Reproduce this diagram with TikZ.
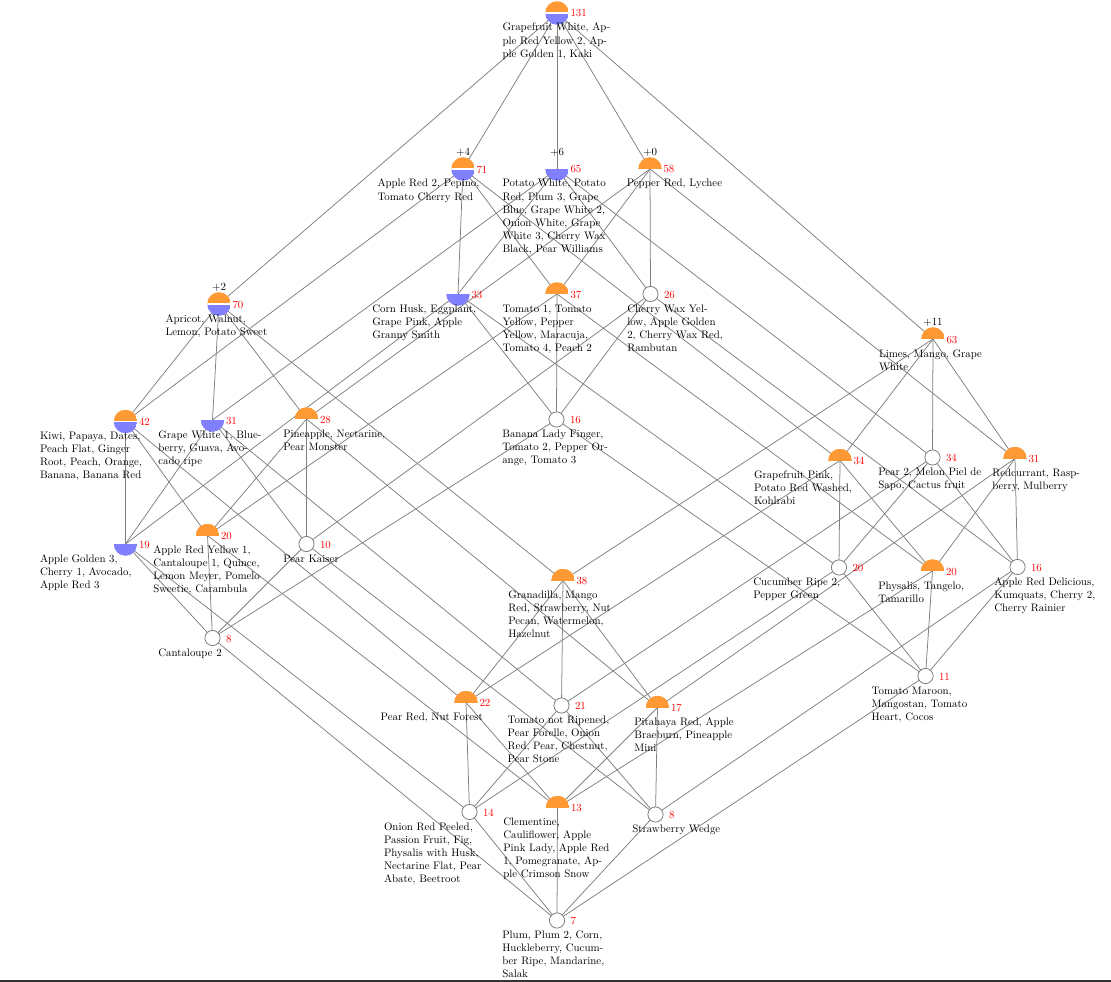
\documentclass[tikz,border=0pt]{standalone}
\usetikzlibrary{calc,backgrounds}
\definecolor{conceptorange}{RGB}{255,153,51}
\definecolor{conceptblue}{RGB}{128,128,255}
\definecolor{edgegray}{RGB}{128,128,128}
% object list under a concept, first baseline = node anchor
\newcommand\objlines[1]{\begin{tabular}[t]{@{}l@{}}#1\end{tabular}}
% name, x, y, look, extent size, label x-offset, objects
\newcommand\concept[7]{%
  \node[#4] (#1) at (#2,#3) {};
  \node[extent] at ($(#1.center)+(13.5,0.5)$) {#5};
  \node[objects] at ($(#1.center)+(#6,18)$) {\objlines{#7}};
}
\begin{document}
\begin{tikzpicture}[x=0.92pt, y=-0.92pt,
  every node/.style={inner sep=0pt, outer sep=0pt},
  disc/.style={circle, minimum size=21.7pt},
  ortop/.style={disc, path picture={\fill[conceptorange] (path picture bounding box.west) rectangle (path picture bounding box.north east);}},
  blbottom/.style={disc, path picture={\fill[conceptblue] (path picture bounding box.south west) rectangle (path picture bounding box.east);}},
  bothhalves/.style={disc, path picture={
      \fill[conceptorange] (path picture bounding box.west) rectangle (path picture bounding box.north east);
      \fill[conceptblue] (path picture bounding box.south west) rectangle (path picture bounding box.east);
      \draw[white, line width=1.1pt] (path picture bounding box.west) -- (path picture bounding box.east);}},
  plain/.style={circle, draw=edgegray, fill=white, line width=0.75pt, minimum size=14pt},
  extent/.style={anchor=west, text=red},
  objects/.style={anchor=base west},
  attrcount/.style={anchor=base},
  edge/.style={draw=edgegray, line width=0.7pt}]
\useasboundingbox (0,0) rectangle (1111,982);

% top
\concept{n131}{557}{13}{bothhalves}{131}{-54.5}{Grapefruit White, Ap-\\ple Red Yellow 2, Ap-\\ple Golden 1, Kaki}
% coatoms
\concept{n71}{463}{169}{bothhalves}{71}{-85.5}{Apple Red 2, Pepino,\\Tomato Cherry Red}
\concept{n65}{557}{169}{blbottom}{65}{-54.5}{Potato White, Potato\\Red, Plum 3, Grape\\Blue, Grape White 2,\\Onion White, Grape\\White 3, Cherry Wax\\Black, Pear Williams}
\concept{n58}{650}{169}{ortop}{58}{-23.2}{Pepper Red, Lychee}
\concept{n70}{219}{304}{bothhalves}{70}{-53.5}{Apricot, Walnut,\\Lemon, Potato Sweet}
\concept{n63}{933}{339}{ortop}{63}{-54}{Limes, Mango, Grape\\White}
% second level
\concept{n33}{458}{294}{blbottom}{33}{-85.7}{Corn Husk, Eggplant,\\Grape Pink, Apple\\Granny Smith}
\concept{n37}{557}{294}{ortop}{37}{-54.3}{Tomato 1, Tomato\\Yellow, Pepper\\Yellow, Maracuja,\\Tomato 4, Peach 2}
\concept{n26}{650.5}{294}{plain}{26}{-23.2}{Cherry Wax Yel-\\low, Apple Golden\\2, Cherry Wax Red,\\Rambutan}
\concept{n42}{125.5}{421.5}{bothhalves}{42}{-85.5}{Kiwi, Papaya, Dates,\\Peach Flat, Ginger\\Root, Peach, Orange,\\Banana, Banana Red}
\concept{n31a}{212.5}{420}{blbottom}{31}{-54.2}{Grape White 1, Blue-\\berry, Guava, Avo-\\cado ripe}
\concept{n28}{306.5}{419}{ortop}{28}{-23.2}{Pineapple, Nectarine,\\Pear Monster}
\concept{n34a}{840}{460.5}{ortop}{34}{-86}{Grapefruit Pink,\\Potato Red Washed,\\Kohlrabi}
\concept{n34b}{932.5}{457.5}{plain}{34}{-54.2}{Pear 2, Melon Piel de\\Sapo, Cactus fruit}
\concept{n31b}{1015}{458.5}{ortop}{31}{-22.7}{Redcurrant, Rasp-\\berry, Mulberry}
\concept{n38}{563}{580.5}{ortop}{38}{-54.7}{Granadilla, Mango\\Red, Strawberry, Nut\\Pecan, Watermelon,\\Hazelnut}
% third level
\concept{n16a}{556.5}{419.5}{plain}{16}{-54.2}{Banana Lady Finger,\\Tomato 2, Pepper Or-\\ange, Tomato 3}
\concept{n19}{125.5}{544}{blbottom}{19}{-85.5}{Apple Golden 3,\\Cherry 1, Avocado,\\Apple Red 3}
\concept{n20a}{207.5}{535.5}{ortop}{20}{-54.2}{Apple Red Yellow 1,\\Cantaloupe 1, Quince,\\Lemon Meyer, Pomelo\\Sweetie, Carambula}
\concept{n10}{306.5}{544}{plain}{10}{-23.2}{Pear Kaiser}
\concept{n20b}{839}{567.5}{plain}{20}{-85.7}{Cucumber Ripe 2,\\Pepper Green}
\concept{n20c}{932.5}{571}{ortop}{20}{-54.2}{Physalis, Tangelo,\\Tamarillo}
\concept{n16b}{1017.5}{567}{plain}{16}{-23.2}{Apple Red Delicious,\\Kumquats, Cherry 2,\\Cherry Rainier}
\concept{n22}{466}{702.5}{ortop}{22}{-85.3}{Pear Red, Nut Forest}
\concept{n21}{561.5}{705.5}{plain}{21}{-53.8}{Tomato not Ripened,\\Pear Forelle, Onion\\Red, Pear, Chestnut,\\Pear Stone}
\concept{n17}{657.5}{707.5}{ortop}{17}{-23.2}{Pitahaya Red, Apple\\Braeburn, Pineapple\\Mini}
% atoms
\concept{n8a}{212.5}{638}{plain}{8}{-54.2}{Cantaloupe 2}
\concept{n11}{925.5}{676}{plain}{11}{-53.8}{Tomato Maroon,\\Mangostan, Tomato\\Heart, Cocos}
\concept{n14}{469.5}{812}{plain}{14}{-85.5}{Onion Red Peeled,\\Passion Fruit, Fig,\\Physalis with Husk,\\Nectarine Flat, Pear\\Abate, Beetroot}
\concept{n13}{557.5}{807.5}{ortop}{13}{-54.2}{Clementine,\\Cauliflower, Apple\\Pink Lady, Apple Red\\1, Pomegranate, Ap-\\ple Crimson Snow}
\concept{n8b}{655.5}{814.5}{plain}{8}{-23.2}{Strawberry Wedge}
% bottom
\concept{n7}{557}{920.5}{plain}{7}{-54.7}{Plum, Plum 2, Corn,\\Huckleberry, Cucum-\\ber Ripe, Mandarine,\\Salak}

% attribute counts above some concepts
\node[attrcount] at ($(n71.center)+(0,-13.3)$) {+4};
\node[attrcount] at ($(n65.center)+(0,-13.3)$) {+6};
\node[attrcount] at ($(n58.center)+(0,-13.3)$) {+0};
\node[attrcount] at ($(n70.center)+(0,-13.3)$) {+2};
\node[attrcount] at ($(n63.center)+(0,-13.3)$) {+11};

% cover relations
\begin{scope}[on background layer]
\foreach \a/\b in {
  n131/n70, n131/n71, n131/n65, n131/n58, n131/n63,
  n70/n42, n70/n31a, n70/n28, n70/n38,
  n71/n42, n71/n33, n71/n37, n71/n34a,
  n65/n31a, n65/n33, n65/n26, n65/n34b,
  n58/n28, n58/n37, n58/n26, n58/n31b,
  n63/n38, n63/n34a, n63/n34b, n63/n31b,
  n42/n19, n42/n20a, n42/n22,
  n31a/n19, n31a/n10, n31a/n21,
  n28/n20a, n28/n10, n28/n17,
  n38/n22, n38/n21, n38/n17,
  n33/n19, n33/n16a, n33/n20b,
  n37/n20a, n37/n16a, n37/n20c,
  n34a/n22, n34a/n20b, n34a/n20c,
  n26/n10, n26/n16a, n26/n16b,
  n34b/n21, n34b/n20b, n34b/n16b,
  n31b/n17, n31b/n20c, n31b/n16b,
  n19/n8a, n19/n14,
  n20a/n8a, n20a/n13,
  n22/n14, n22/n13,
  n10/n8a, n10/n8b,
  n21/n14, n21/n8b,
  n17/n13, n17/n8b,
  n16a/n8a, n16a/n11,
  n20b/n14, n20b/n11,
  n20c/n13, n20c/n11,
  n16b/n8b, n16b/n11,
  n8a/n7, n14/n7, n13/n7, n8b/n7, n11/n7}
  \draw[edge] (\a.center) -- (\b.center);
\end{scope}

% rule along the lower edge
\draw[black!80, line width=1pt] (0,981) -- (1111,981);
\end{tikzpicture}
\end{document}
